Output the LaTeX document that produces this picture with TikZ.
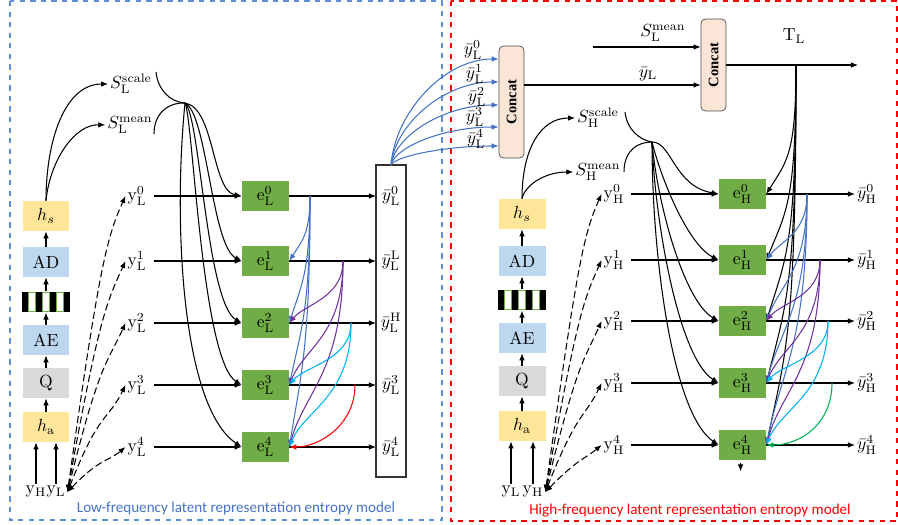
\documentclass[tikz,border=0pt]{standalone}
\usepackage{amsmath}
\usepackage{fontspec}
\newfontfamily\capfont{Carlito}
\newfontfamily\catfont{Liberation Serif}
\usetikzlibrary{arrows.meta,calc,positioning}
\definecolor{entgreen}{HTML}{70AD47}
\definecolor{hyellow}{HTML}{FFE699}
\definecolor{codblue}{HTML}{BDD7EE}
\definecolor{qgray}{HTML}{D9D9D9}
\definecolor{catpeach}{HTML}{FBE5D6}
\definecolor{cblue}{HTML}{4472C4}
\definecolor{cpurple}{HTML}{7030A0}
\definecolor{ccyan}{HTML}{00B0F0}
\definecolor{cgreen}{HTML}{00B050}
\definecolor{panelblue}{HTML}{5B8FD8}
\tikzset{
  arr/.style={-{Latex[length=4pt,width=3.2pt]}, line width=0.6pt},
  dasharr/.style={{Latex[length=4pt,width=3.2pt]}-{Latex[length=4pt,width=3.2pt]}, line width=0.6pt, dash pattern=on 4pt off 2pt},
  procbox/.style={minimum width=0.94cm, minimum height=0.6cm, inner sep=0pt},
  entnode/.style={fill=entgreen, minimum width=0.94cm, minimum height=0.6cm, inner sep=0pt},
  stripebar/.style={fill=black, minimum width=0.96cm, minimum height=0.41cm, inner sep=0pt},
  concatbox/.style={draw=black!70, fill=catpeach, rounded corners=2.5pt, minimum width=0.5cm, inner sep=0pt, font=\catfont\fontsize{8.3}{9}\selectfont\bfseries},
  lbl/.style={inner sep=1pt}
}

\begin{document}
\begin{tikzpicture}[x=0.02cm, y=-0.02cm]
\useasboundingbox (0,0) rectangle (898,524);

% panels
\draw[panelblue, dashed, line width=0.7pt] (10,1) rectangle (442,520);
\draw[red, dashed, line width=0.7pt] (451,1) rectangle (897,521);
\node[text=cblue, font=\capfont\fontsize{8.6}{10}\selectfont] (capL) at (236,508) {Low-frequency latent representation entropy model};
\node[text=red, font=\capfont\fontsize{8.6}{10}\selectfont] (capH) at (690,511) {High-frequency latent representation entropy model};

% ---------------- low-frequency part ----------------
\node[procbox, fill=hyellow] (hsL) at (46,216) {$h_s$};
\node[procbox, fill=codblue] (adL) at (46,262) {AD};
\node[stripebar] (stL) at (46,302) {};
\foreach \i in {1,3,5}
  \draw[entgreen, fill=white, line width=0.6pt] (22+\i*6.86,292.6) rectangle ++(6.86,18.8);
\node[procbox, fill=codblue] (aeL) at (46,340) {AE};
\node[procbox, fill=qgray] (qL) at (46,383) {Q};
\node[procbox, fill=hyellow] (haL) at (46,427) {$h_\mathrm{a}$};
\node[lbl] (yHa) at (36,492) {$\mathrm{y}_\mathrm{H}$};
\node[lbl] (yLa) at (56,492) {$\mathrm{y}_\mathrm{L}$};
\draw[arr] (yHa.north) -- (yHa.north |- haL.south);
\draw[arr] (yLa.north) -- (yLa.north |- haL.south);
\foreach \a/\b in {haL/qL, qL/aeL, aeL/stL, stL/adL, adL/hsL}
  \draw[arr] (\a) -- (\b);

\node[lbl] (sclL) at (131,84) {$S_\mathrm{L}^\mathrm{scale}$};
\node[lbl] (smnL) at (130,125) {$S_\mathrm{L}^\mathrm{mean}$};
\draw[arr] (hsL.north) .. controls (46,140) and (65,84) .. (sclL.west);
\draw[arr] (hsL.north) .. controls (50,160) and (75,124) .. (smnL.west);

\coordinate (fanL) at (185,103);
\coordinate (sclLe) at (156,72);
\coordinate (smnLe) at (154,134);
\draw[line width=0.6pt] (sclLe) .. controls (158,90) and (170,102) .. (fanL);
\draw[line width=0.6pt] (smnLe) .. controls (154,112) and (170,102) .. (fanL);

\foreach \k/\yy in {0/196,1/261,2/323,3/385,4/447} {
  \node[entnode] (eL\k) at (265.5,\yy) {$\mathrm{e}_\mathrm{L}^\k$};
  \node[lbl] (yL\k) at (137,\yy) {$\mathrm{y}_\mathrm{L}^\k$};
  \draw[arr] (yL\k.east) ++(5,0) -- (eL\k.west);
  \draw[dasharr] (yLa.east) .. controls +(32,{-0.78*(490-\yy)}) and +(-18,{min(40,0.35*(490-\yy))}) .. (yL\k.west);
}
\draw[arr] (fanL) .. controls +(30,5) and +(-30,-5) .. (eL0.west);
\draw[arr] (fanL) .. controls +(22,10) and +(-30,-15) .. (eL1.west);
\draw[arr] (fanL) .. controls +(15,12) and +(-35,-20) .. (eL2.west);
\draw[arr] (fanL) .. controls +(8,15) and +(-40,-25) .. (eL3.west);
\draw[arr] (fanL) .. controls +(-12,120) and +(-60,-40) .. (eL4.west);

% output column
\coordinate (ybLnw) at (376,165);
\coordinate (ybLse) at (406,477);
\coordinate (ybLtop) at (391,165);
\draw[black!80, line width=0.6pt] (ybLnw) rectangle (ybLse);
\node[lbl] (ybL0) at (391,196) {$\bar{y}_\mathrm{L}^0$};
\node[lbl] (ybL1) at (391,261) {$\bar{y}_\mathrm{L}^\mathrm{L}$};
\node[lbl] (ybL2) at (391,323) {$\bar{y}_\mathrm{L}^\mathrm{H}$};
\node[lbl] (ybL3) at (391,385) {$\bar{y}_\mathrm{L}^3$};
\node[lbl] (ybL4) at (391,447) {$\bar{y}_\mathrm{L}^4$};
\foreach \k in {0,...,4}
  \draw[arr] (eL\k.east) -- (eL\k.east -| ybLnw);

% context links
\coordinate (ctxL0) at (310,196);
\coordinate (ctxL1) at (343,261);
\coordinate (ctxL2) at (351,323);
\coordinate (ctxL3) at (355,385);
\foreach \k/\dd in {1/65,2/127,3/189,4/251}
  \draw[arr, cblue] (ctxL0) .. controls +(0,{0.6*\dd}) and +(12,{-0.3*\dd}) .. (eL\k.east);
\foreach \k/\dd in {2/62,3/124,4/186}
  \draw[arr, cpurple] (ctxL1) .. controls +(0,{0.6*\dd}) and +(15,{-0.3*\dd}) .. (eL\k.east);
\foreach \k/\dd in {3/62,4/124}
  \draw[arr, ccyan] (ctxL2) .. controls +(0,{0.6*\dd}) and +(15,{-0.3*\dd}) .. (eL\k.east);
\draw[arr, red] (ctxL3) .. controls +(0,40) and +(30,0) .. (eL4.east);

% ---------------- concatenation ----------------
\node[concatbox, minimum height=2.24cm] (cc1) at (511.5,102) {\rotatebox{90}{Concat}};
\node[concatbox, minimum height=1.84cm] (cc2) at (713.5,65) {\rotatebox{90}{Concat}};
\foreach \k/\yy in {0/59,1/82,2/105,3/127,4/146}
  \draw[arr, cblue] (ybLtop) .. controls +(4,{-0.5*(163-\yy)}) and +(-55,0) .. (cc1.west |- 0,\yy);
\node[lbl] (tyb0) at (473,50) {$\bar{y}_\mathrm{L}^0$};
\node[lbl] (tyb1) at (475,74) {$\bar{y}_\mathrm{L}^1$};
\node[lbl] (tyb2) at (477,97) {$\bar{y}_\mathrm{L}^2$};
\node[lbl] (tyb3) at (475,117) {$\bar{y}_\mathrm{L}^3$};
\node[lbl] (tyb4) at (476,139) {$\bar{y}_\mathrm{L}^4$};

\coordinate (smIn) at (593,47);
\coordinate (ybOut) at (524,85);
\draw[arr] (smIn) -- (smIn -| cc2.west);
\draw[arr] (ybOut) -- (ybOut -| cc2.west);
\node[lbl] (smLbl) at (663,33) {$S_\mathrm{L}^\mathrm{mean}$};
\node[lbl] (ybLbl) at (648,74) {$\bar{y}_\mathrm{L}$};
\coordinate (tlEnd) at (858,65);
\coordinate (tlB) at (796,65);
\draw[arr] (cc2.east) -- (tlEnd);
\node[lbl] (tlLbl) at (794,36) {$\mathrm{T}_\mathrm{L}$};

% ---------------- high-frequency part ----------------
\node[procbox, fill=hyellow] (hsH) at (522,214) {$h_s$};
\node[procbox, fill=codblue] (adH) at (522,261) {AD};
\node[stripebar] (stH) at (522,300) {};
\foreach \i in {1,3,5}
  \draw[entgreen, fill=white, line width=0.6pt] (498+\i*6.86,290.6) rectangle ++(6.86,18.8);
\node[procbox, fill=codblue] (aeH) at (522,338) {AE};
\node[procbox, fill=qgray] (qH) at (522,381) {Q};
\node[procbox, fill=hyellow] (haH) at (522,426) {$h_\mathrm{a}$};
\node[lbl] (yLb) at (511,492) {$\mathrm{y}_\mathrm{L}$};
\node[lbl] (yHb) at (533,492) {$\mathrm{y}_\mathrm{H}$};
\draw[arr] (yLb.north) -- (yLb.north |- haH.south);
\draw[arr] (yHb.north) -- (yHb.north |- haH.south);
\foreach \a/\b in {haH/qH, qH/aeH, aeH/stH, stH/adH, adH/hsH}
  \draw[arr] (\a) -- (\b);

\node[lbl] (sclH) at (598,118) {$S_\mathrm{H}^\mathrm{scale}$};
\node[lbl] (smnH) at (598,172) {$S_\mathrm{H}^\mathrm{mean}$};
\draw[arr] (hsH.north) .. controls (522,150) and (540,118) .. (sclH.west);
\draw[arr] (hsH.north) .. controls (525,185) and (545,172) .. (smnH.west);

\coordinate (fanH) at (652,142);
\coordinate (sclHe) at (625,112);
\coordinate (smnHe) at (624,172);
\draw[line width=0.6pt] (sclHe) .. controls (627,130) and (640,140) .. (fanH);
\draw[line width=0.6pt] (smnHe) .. controls (624,150) and (638,142) .. (fanH);

\foreach \k/\yy in {0/194,1/260,2/321,3/383,4/445} {
  \node[entnode] (eH\k) at (742.5,\yy) {$\mathrm{e}_\mathrm{H}^\k$};
  \node[lbl] (yH\k) at (614,\yy) {$\mathrm{y}_\mathrm{H}^\k$};
  \node[lbl] (ybH\k) at (867,\yy) {$\bar{y}_\mathrm{H}^\k$};
  \draw[arr] (yH\k.east) ++(5,0) -- (eH\k.west);
  \draw[arr] (eH\k.east) -- (ybH\k.west);
  \draw[dasharr] (yHb.east) .. controls +(32,{-0.78*(487-\yy)}) and +(-18,{min(40,0.35*(487-\yy))}) .. (yH\k.west);
  \draw[arr] (tlB) .. controls +(0,{0.7*(\yy-65)}) and +(20,{-0.25*(\yy-65)}) .. (eH\k.east);
}
\draw[arr] (fanH) .. controls +(20,0) and +(-45,-8) .. (eH0.west);
\draw[arr] (fanH) .. controls +(10,40) and +(-30,-15) .. (eH1.west);
\draw[arr] (fanH) .. controls +(5,60) and +(-35,-20) .. (eH2.west);
\draw[arr] (fanH) .. controls +(3,80) and +(-40,-25) .. (eH3.west);
\draw[arr] (fanH) .. controls +(0,120) and +(-45,-30) .. (eH4.west);
\draw[arr] (eH4.south) ++(-2,3) -- ++(0,8);

% context links
\coordinate (ctxH0) at (807,194);
\coordinate (ctxH1) at (820,260);
\coordinate (ctxH2) at (828,321);
\coordinate (ctxH3) at (832,383);
\foreach \k/\dd in {1/66,2/127,3/189,4/251}
  \draw[arr, cblue] (ctxH0) .. controls +(0,{0.6*\dd}) and +(15,{-0.3*\dd}) .. (eH\k.east);
\foreach \k/\dd in {2/61,3/123,4/185}
  \draw[arr, cpurple] (ctxH1) .. controls +(0,{0.6*\dd}) and +(15,{-0.3*\dd}) .. (eH\k.east);
\foreach \k/\dd in {3/62,4/124}
  \draw[arr, ccyan] (ctxH2) .. controls +(0,{0.6*\dd}) and +(15,{-0.3*\dd}) .. (eH\k.east);
\draw[arr, cgreen] (ctxH3) .. controls +(0,40) and +(35,0) .. (eH4.east);
\end{tikzpicture}
\end{document}
